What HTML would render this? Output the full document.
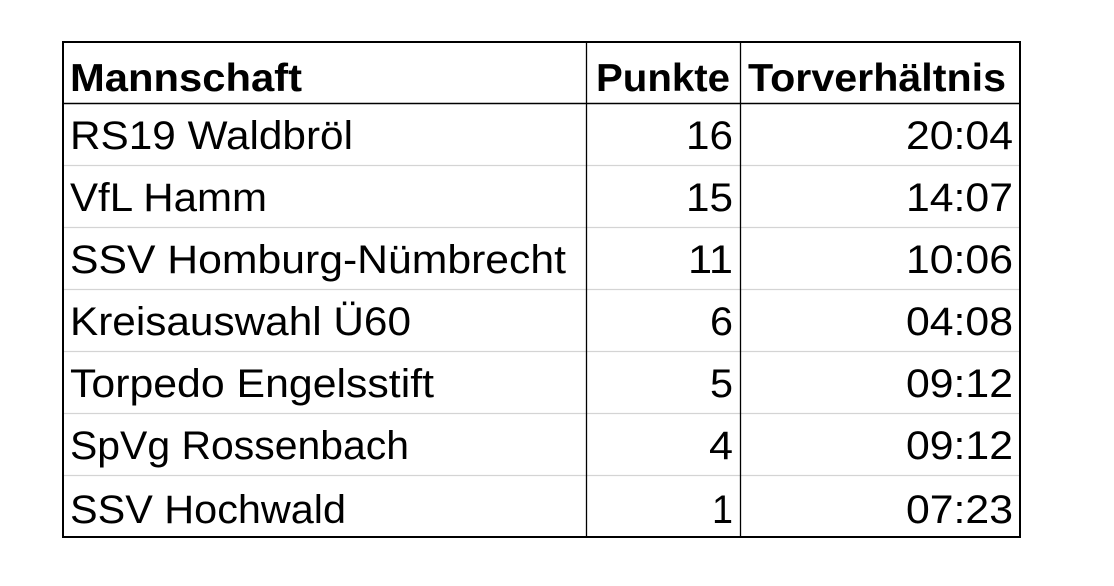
<!DOCTYPE html>
<html><head><meta charset="utf-8"><style>
html,body{margin:0;padding:0;background:#fff;}
svg{display:block}
text{font-family:"Liberation Sans",Arial,sans-serif;fill:#000;}
.h{font-weight:bold;font-size:39px}
.b{font-size:40px}
</style></head><body>
<svg width="1114" height="586" viewBox="0 0 1114 586">
<g stroke="#d4d4d4" stroke-width="1.2">
<line x1="63" y1="165.5" x2="1020" y2="165.5"/>
<line x1="63" y1="227.5" x2="1020" y2="227.5"/>
<line x1="63" y1="289.5" x2="1020" y2="289.5"/>
<line x1="63" y1="351.5" x2="1020" y2="351.5"/>
<line x1="63" y1="413.5" x2="1020" y2="413.5"/>
<line x1="63" y1="475.5" x2="1020" y2="475.5"/>
</g>
<g stroke="#000">
<line x1="63" y1="103.5" x2="1020" y2="103.5" stroke-width="1.5"/>
<line x1="586.5" y1="41" x2="586.5" y2="538" stroke-width="1.3"/>
<line x1="740.5" y1="41" x2="740.5" y2="538" stroke-width="1.3"/>
<rect x="63" y="42" width="957" height="495" fill="none" stroke-width="2"/>
</g>
<text class="h" x="70" y="91" textLength="232" lengthAdjust="spacingAndGlyphs">Mannschaft</text>
<text class="h" x="596" y="91" textLength="134" lengthAdjust="spacingAndGlyphs">Punkte</text>
<text class="h" x="748" y="91" textLength="258" lengthAdjust="spacingAndGlyphs">Torverhältnis</text>
<text class="b" x="70" y="149" textLength="283" lengthAdjust="spacingAndGlyphs">RS19 Waldbröl</text>
<text class="b" x="70" y="211" textLength="197" lengthAdjust="spacingAndGlyphs">VfL Hamm</text>
<text class="b" x="70" y="273" textLength="496" lengthAdjust="spacingAndGlyphs">SSV Homburg-Nümbrecht</text>
<text class="b" x="70" y="335" textLength="341" lengthAdjust="spacingAndGlyphs">Kreisauswahl Ü60</text>
<text class="b" x="70" y="397" textLength="364" lengthAdjust="spacingAndGlyphs">Torpedo Engelsstift</text>
<text class="b" x="70" y="459" textLength="339" lengthAdjust="spacingAndGlyphs">SpVg Rossenbach</text>
<text class="b" x="70" y="523" textLength="276" lengthAdjust="spacingAndGlyphs">SSV Hochwald</text>
<text class="b" x="686" y="149" textLength="47" lengthAdjust="spacingAndGlyphs">16</text>
<text class="b" x="686" y="211" textLength="47" lengthAdjust="spacingAndGlyphs">15</text>
<text class="b" x="688" y="273" textLength="45" lengthAdjust="spacingAndGlyphs">11</text>
<text class="b" x="710" y="335" textLength="23" lengthAdjust="spacingAndGlyphs">6</text>
<text class="b" x="710" y="397" textLength="23" lengthAdjust="spacingAndGlyphs">5</text>
<text class="b" x="709" y="459" textLength="24" lengthAdjust="spacingAndGlyphs">4</text>
<text class="b" x="712" y="523" textLength="21" lengthAdjust="spacingAndGlyphs">1</text>
<text class="b" x="906" y="149" textLength="107" lengthAdjust="spacingAndGlyphs">20:04</text>
<text class="b" x="906" y="211" textLength="107" lengthAdjust="spacingAndGlyphs">14:07</text>
<text class="b" x="906" y="273" textLength="107" lengthAdjust="spacingAndGlyphs">10:06</text>
<text class="b" x="906" y="335" textLength="107" lengthAdjust="spacingAndGlyphs">04:08</text>
<text class="b" x="906" y="397" textLength="107" lengthAdjust="spacingAndGlyphs">09:12</text>
<text class="b" x="906" y="459" textLength="107" lengthAdjust="spacingAndGlyphs">09:12</text>
<text class="b" x="906" y="523" textLength="107" lengthAdjust="spacingAndGlyphs">07:23</text>
</svg>
</body></html>
